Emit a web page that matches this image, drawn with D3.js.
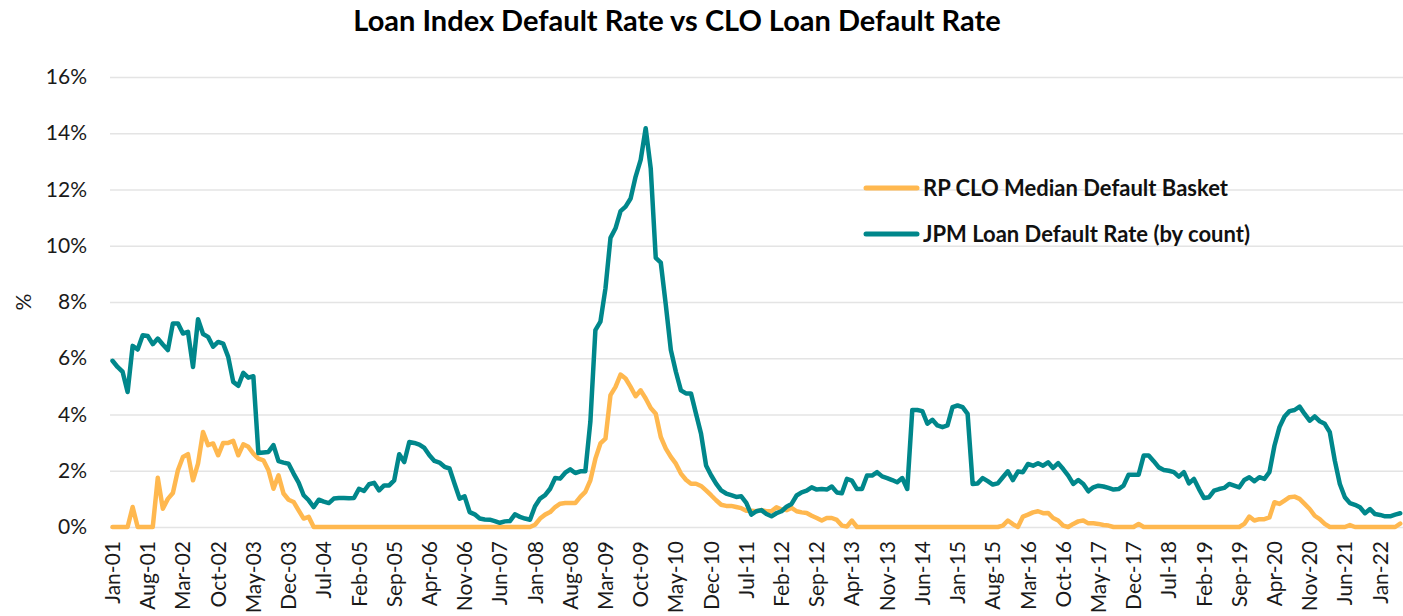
<!DOCTYPE html>
<html>
<head>
<meta charset="utf-8">
<script src="https://cdn.jsdelivr.net/npm/d3@7"></script>
<style>
  html, body { margin: 0; padding: 0; background: #ffffff; }
  svg { display: block; font-family: "Lato", "Noto Sans", sans-serif; }
</style>
</head>
<body>
<svg id="chart" width="1403" height="616"></svg>
<script>
// Monthly observations, Jan-2001 through May-2022 (values in %)
const startMonth = new Date(2001, 0, 1);
const endMonth = new Date(2022, 5, 1);
const months = d3.timeMonth.range(startMonth, endMonth).map(d3.timeFormat("%b-%y"));

// RP CLO Median Default Basket
const clo = [
  0, 0, 0, 0, 0.71, 0, 0, 0, 0, 1.75, 0.65, 1.00, 1.21, 2.02, 2.49, 2.59, 1.66, 2.25, 3.38, 2.91,
  2.97, 2.55, 2.99, 2.99, 3.06, 2.55, 2.94, 2.85, 2.61, 2.43, 2.37, 2.02, 1.36, 1.84, 1.19, 0.97, 0.89, 0.59, 0.30, 0.36,
  0, 0, 0, 0, 0, 0, 0, 0, 0, 0, 0, 0, 0, 0, 0, 0, 0, 0, 0, 0,
  0, 0, 0, 0, 0, 0, 0, 0, 0, 0, 0, 0, 0, 0, 0, 0, 0, 0, 0, 0,
  0, 0, 0, 0, 0.08, 0.30, 0.44, 0.53, 0.71, 0.83, 0.85, 0.85, 0.85, 1.07, 1.25, 1.66, 2.43, 2.97, 3.14, 4.69,
  4.98, 5.42, 5.28, 4.98, 4.65, 4.86, 4.57, 4.23, 4.03, 3.20, 2.79, 2.49, 2.25, 1.90, 1.68, 1.54, 1.54, 1.46, 1.30, 1.13,
  0.95, 0.79, 0.75, 0.75, 0.71, 0.67, 0.58, 0.58, 0.56, 0.60, 0.56, 0.56, 0.70, 0.62, 0.60, 0.68, 0.56, 0.52, 0.50, 0.40,
  0.32, 0.23, 0.32, 0.32, 0.25, 0.05, 0.02, 0.23, 0, 0, 0, 0, 0, 0, 0, 0, 0, 0, 0, 0,
  0, 0, 0, 0, 0, 0, 0, 0, 0, 0, 0, 0, 0, 0, 0, 0, 0, 0.05, 0.23, 0.10,
  0, 0.37, 0.44, 0.52, 0.56, 0.49, 0.50, 0.32, 0.23, 0.05, 0, 0.11, 0.20, 0.23, 0.13, 0.13, 0.11, 0.07, 0.05, 0,
  0, 0, 0, 0, 0.11, 0, 0, 0, 0, 0, 0, 0, 0, 0, 0, 0, 0, 0, 0, 0,
  0, 0, 0, 0, 0, 0.11, 0.37, 0.23, 0.28, 0.28, 0.34, 0.88, 0.82, 0.94, 1.06, 1.08, 1.00, 0.82, 0.64, 0.40,
  0.28, 0.11, 0, 0, 0, 0, 0.07, 0, 0, 0, 0, 0, 0, 0, 0, 0, 0.12
];

// JPM Loan Default Rate (by count)
const jpm = [
  5.91, 5.69, 5.52, 4.80, 6.44, 6.31, 6.82, 6.79, 6.50, 6.70, 6.49, 6.29, 7.24, 7.24, 6.88, 6.94, 5.69, 7.39, 6.86, 6.76,
  6.41, 6.58, 6.52, 6.05, 5.16, 5.02, 5.48, 5.31, 5.36, 2.63, 2.65, 2.67, 2.91, 2.34, 2.29, 2.25, 1.90, 1.58, 1.13, 0.95,
  0.71, 0.97, 0.90, 0.85, 1.01, 1.03, 1.03, 1.02, 1.03, 1.36, 1.28, 1.52, 1.57, 1.30, 1.48, 1.48, 1.66, 2.59, 2.31, 3.02,
  2.99, 2.93, 2.81, 2.55, 2.35, 2.29, 2.14, 2.08, 1.54, 1.01, 1.09, 0.53, 0.45, 0.30, 0.27, 0.26, 0.21, 0.15, 0.20, 0.21,
  0.45, 0.36, 0.30, 0.26, 0.74, 1.01, 1.13, 1.36, 1.74, 1.72, 1.93, 2.05, 1.92, 1.98, 1.98, 3.74, 7.00, 7.30, 8.48, 10.28,
  10.62, 11.23, 11.39, 11.68, 12.46, 13.05, 14.18, 12.75, 9.57, 9.40, 7.89, 6.29, 5.52, 4.86, 4.75, 4.75, 4.03, 3.32, 2.19, 1.84,
  1.54, 1.30, 1.19, 1.13, 1.07, 1.09, 0.86, 0.44, 0.56, 0.60, 0.46, 0.38, 0.49, 0.56, 0.72, 0.82, 1.12, 1.23, 1.29, 1.41,
  1.33, 1.35, 1.33, 1.44, 1.23, 1.20, 1.71, 1.65, 1.35, 1.35, 1.83, 1.83, 1.95, 1.80, 1.74, 1.67, 1.59, 1.74, 1.35, 4.16,
  4.16, 4.12, 3.67, 3.81, 3.61, 3.55, 3.61, 4.26, 4.32, 4.26, 4.02, 1.53, 1.55, 1.74, 1.63, 1.51, 1.55, 1.77, 1.98, 1.67,
  1.97, 1.95, 2.24, 2.18, 2.27, 2.18, 2.30, 2.10, 2.27, 2.06, 1.83, 1.53, 1.67, 1.53, 1.27, 1.41, 1.47, 1.44, 1.39, 1.33,
  1.35, 1.47, 1.86, 1.86, 1.86, 2.54, 2.54, 2.34, 2.12, 2.03, 2.00, 1.95, 1.79, 1.95, 1.55, 1.71, 1.35, 1.03, 1.06, 1.29,
  1.35, 1.39, 1.53, 1.47, 1.41, 1.67, 1.77, 1.63, 1.77, 1.71, 1.95, 2.89, 3.55, 3.93, 4.12, 4.16, 4.28, 4.02, 3.78, 3.93,
  3.76, 3.67, 3.37, 2.36, 1.53, 1.06, 0.85, 0.79, 0.70, 0.49, 0.64, 0.46, 0.43, 0.38, 0.38, 0.44, 0.49
];

// Category labels shown on the x axis (every seventh month)
const xTickLabels = [
  "Jan-01", "Aug-01", "Mar-02", "Oct-02", "May-03", "Dec-03", "Jul-04", "Feb-05", "Sep-05", "Apr-06",
  "Nov-06", "Jun-07", "Jan-08", "Aug-08", "Mar-09", "Oct-09", "May-10", "Dec-10", "Jul-11", "Feb-12",
  "Sep-12", "Apr-13", "Nov-13", "Jun-14", "Jan-15", "Aug-15", "Mar-16", "Oct-16", "May-17", "Dec-17",
  "Jul-18", "Feb-19", "Sep-19", "Apr-20", "Nov-20", "Jun-21", "Jan-22"
];
const yTickValues = [0, 2, 4, 6, 8, 10, 12, 14, 16];

const seriesList = [
  { name: "RP CLO Median Default Basket", values: clo, color: "#FFB84F" },
  { name: "JPM Loan Default Rate (by count)", values: jpm, color: "#00878B" }
];

const W = 1403, H = 616;
const plot = { left: 110, right: W, top: 77, bottom: 527 };
const step = 5.03;

const svg = d3.select("#chart");
svg.append("rect").attr("width", W).attr("height", H).attr("fill", "#ffffff");

const x = d3.scaleBand()
  .domain(months)
  .range([plot.left, plot.left + months.length * step])
  .paddingInner(0).paddingOuter(0);
const xc = m => x(m) + x.bandwidth() / 2;

const y = d3.scaleLinear().domain([0, 16]).range([plot.bottom, plot.top]);

// Title
svg.append("text")
  .attr("x", 677).attr("y", 31)
  .attr("text-anchor", "middle")
  .attr("font-size", 29).attr("font-weight", 700).attr("fill", "#000")
  .text("Loan Index Default Rate vs CLO Loan Default Rate");

// Y axis with horizontal gridlines
const yAxis = svg.append("g")
  .attr("transform", `translate(${plot.left},0)`)
  .call(d3.axisLeft(y)
    .tickValues(yTickValues)
    .tickSize(-(plot.right - plot.left))
    .tickPadding(23)
    .tickFormat(d => d + "%"));
yAxis.select(".domain").remove();
yAxis.selectAll(".tick line").attr("stroke", "#e4e4e4").attr("stroke-width", 1.6);
yAxis.selectAll(".tick text")
  .attr("font-size", 21).attr("fill", "#1a1a1a")
  .style("font-family", "Lato, sans-serif");

// Y axis title
svg.append("text")
  .attr("transform", "translate(31,302) rotate(-90)")
  .attr("text-anchor", "middle")
  .attr("font-size", 21).attr("fill", "#1a1a1a")
  .text("%");

// X axis: rotated month labels
const labelMonths = xTickLabels.filter(l => months.includes(l));
const xAxis = svg.append("g")
  .attr("transform", `translate(0,${plot.bottom})`)
  .call(d3.axisBottom(x).tickValues(labelMonths).tickSize(0).tickPadding(0));
xAxis.select(".domain").remove();
xAxis.selectAll(".tick text")
  .attr("transform", "rotate(-90)")
  .attr("text-anchor", "end")
  .attr("x", -14).attr("y", 0).attr("dy", "0.36em")
  .attr("font-size", 21).attr("fill", "#1a1a1a")
  .style("font-family", "Lato, sans-serif");

// Series lines
const line = d3.line()
  .x((d, i) => xc(months[i]))
  .y(d => y(d));

svg.append("g").selectAll("path")
  .data(seriesList)
  .join("path")
  .attr("d", s => line(s.values))
  .attr("fill", "none")
  .attr("stroke", s => s.color)
  .attr("stroke-width", 4.5)
  .attr("stroke-linejoin", "round")
  .attr("stroke-linecap", "round");

// Legend
const legend = svg.append("g").attr("transform", "translate(866,188)");
const item = legend.selectAll("g")
  .data(seriesList)
  .join("g")
  .attr("transform", (d, i) => `translate(0,${i * 46})`);
item.append("line")
  .attr("x1", 0).attr("x2", 51)
  .attr("stroke", d => d.color).attr("stroke-width", 5)
  .attr("stroke-linecap", "round");
item.append("text")
  .attr("x", 57).attr("y", 0).attr("dy", "0.35em")
  .attr("font-size", 22).attr("font-weight", 700).attr("fill", "#111")
  .text(d => d.name);
</script>
</body>
</html>
